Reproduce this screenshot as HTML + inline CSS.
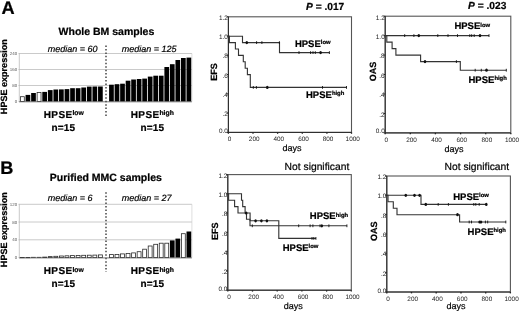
<!DOCTYPE html>
<html><head><meta charset="utf-8"><title>HPSE figure</title>
<style>html,body{margin:0;padding:0;background:#fff;}body{width:520px;height:313px;overflow:hidden;}svg{display:block;filter:blur(0.35px);}text{font-family:'Liberation Sans', Arial, Helvetica, sans-serif;text-rendering:geometricPrecision;}text[font-weight="bold"]{stroke:#000;stroke-width:0.22px;}text.r{stroke:#000;stroke-width:0.2px;}</style>
</head><body>
<svg width="520" height="313" viewBox="0 0 520 313">
<rect width="520" height="313" fill="#fff"/>
<text x="1.5" y="13.9" font-size="18.2" font-weight="bold" fill="#000">A</text>
<text x="0.2" y="174.0" font-size="18.2" font-weight="bold" fill="#000">B</text>
<line x1="19" y1="53.5" x2="191.9" y2="53.5" stroke="#c4c4c4" stroke-width="0.9"/>
<line x1="19" y1="69.5" x2="191.9" y2="69.5" stroke="#c4c4c4" stroke-width="0.9"/>
<line x1="19" y1="85.5" x2="191.9" y2="85.5" stroke="#c4c4c4" stroke-width="0.9"/>
<line x1="191.9" y1="53.5" x2="191.9" y2="101.5" stroke="#c8c8c8" stroke-width="0.6"/>
<line x1="19.3" y1="53.5" x2="19.3" y2="101.5" stroke="#bbb" stroke-width="0.8"/>
<text x="17.2" y="55.1" font-size="4.4" fill="#555" text-anchor="end">240</text>
<line x1="18.3" y1="53.5" x2="19.3" y2="53.5" stroke="#bbb" stroke-width="0.6"/>
<text x="17.2" y="71.1" font-size="4.4" fill="#555" text-anchor="end">160</text>
<line x1="18.3" y1="69.5" x2="19.3" y2="69.5" stroke="#bbb" stroke-width="0.6"/>
<text x="17.2" y="87.1" font-size="4.4" fill="#555" text-anchor="end">80</text>
<line x1="18.3" y1="85.5" x2="19.3" y2="85.5" stroke="#bbb" stroke-width="0.6"/>
<text x="17.2" y="103.1" font-size="4.4" fill="#555" text-anchor="end">0</text>
<line x1="18.3" y1="101.5" x2="19.3" y2="101.5" stroke="#bbb" stroke-width="0.6"/>
<rect x="20.40" y="96.70" width="3.90" height="4.80" fill="#fff" stroke="#2a2a2a" stroke-width="0.8"/>
<rect x="25.57" y="94.90" width="4.70" height="6.60" fill="#000"/>
<rect x="31.15" y="93.00" width="4.70" height="8.50" fill="#000"/>
<rect x="37.12" y="92.50" width="3.90" height="9.00" fill="#fff" stroke="#2a2a2a" stroke-width="0.8"/>
<rect x="42.30" y="91.90" width="4.70" height="9.60" fill="#000"/>
<rect x="47.88" y="90.10" width="4.70" height="11.40" fill="#000"/>
<rect x="53.45" y="89.50" width="4.70" height="12.00" fill="#000"/>
<rect x="59.02" y="89.40" width="4.70" height="12.10" fill="#000"/>
<rect x="64.60" y="89.10" width="4.70" height="12.40" fill="#000"/>
<rect x="70.18" y="88.20" width="4.70" height="13.30" fill="#000"/>
<rect x="75.75" y="88.20" width="4.70" height="13.30" fill="#000"/>
<rect x="81.33" y="87.50" width="4.70" height="14.00" fill="#000"/>
<rect x="86.90" y="86.60" width="4.70" height="14.90" fill="#000"/>
<rect x="92.48" y="86.50" width="4.70" height="15.00" fill="#000"/>
<rect x="98.05" y="86.50" width="4.70" height="15.00" fill="#000"/>
<rect x="109.10" y="84.70" width="4.70" height="16.80" fill="#000"/>
<rect x="114.63" y="84.20" width="4.70" height="17.30" fill="#000"/>
<rect x="120.16" y="83.70" width="4.70" height="17.80" fill="#000"/>
<rect x="125.69" y="80.70" width="4.70" height="20.80" fill="#000"/>
<rect x="131.22" y="79.50" width="4.70" height="22.00" fill="#000"/>
<rect x="136.75" y="79.00" width="4.70" height="22.50" fill="#000"/>
<rect x="142.28" y="78.60" width="4.70" height="22.90" fill="#000"/>
<rect x="147.81" y="76.60" width="4.70" height="24.90" fill="#000"/>
<rect x="153.34" y="75.70" width="4.70" height="25.80" fill="#000"/>
<rect x="158.87" y="75.70" width="4.70" height="25.80" fill="#000"/>
<rect x="164.40" y="67.00" width="4.70" height="34.50" fill="#000"/>
<rect x="169.93" y="64.20" width="4.70" height="37.30" fill="#000"/>
<rect x="175.46" y="60.00" width="4.70" height="41.50" fill="#000"/>
<rect x="180.99" y="58.00" width="4.70" height="43.50" fill="#000"/>
<rect x="186.52" y="57.60" width="4.70" height="43.90" fill="#000"/>
<line x1="19" y1="101.8" x2="191.9" y2="101.8" stroke="#555" stroke-width="0.8"/>
<line x1="106" y1="45.5" x2="106" y2="117.0" stroke="#444" stroke-width="1.5" stroke-dasharray="1.5 1.95"/>
<text x="58.6" y="35.4" font-size="10.5" font-weight="bold" fill="#000">Whole BM samples</text>
<text x="47.8" y="51.5" font-size="9" font-style="italic" fill="#000" class="r">median = 60</text>
<text x="121.8" y="51.5" font-size="9" font-style="italic" fill="#000" class="r">median = 125</text>
<text x="43.8" y="118.2" font-size="10" font-weight="bold" fill="#000" letter-spacing="0.35">HPSE<tspan font-size="6.8" dy="-2.8" letter-spacing="0">low</tspan></text>
<text x="51.5" y="130.6" font-size="10" font-weight="bold" fill="#000" letter-spacing="0.15">n=15</text>
<text x="130.8" y="118.2" font-size="10" font-weight="bold" fill="#000" letter-spacing="0.35">HPSE<tspan font-size="6.8" dy="-2.8" letter-spacing="0">high</tspan></text>
<text x="140.5" y="130.6" font-size="10" font-weight="bold" fill="#000" letter-spacing="0.15">n=15</text>
<text transform="translate(7.2,76.7) rotate(-90)" font-size="9.05" font-weight="bold" fill="#000" text-anchor="middle">HPSE expression</text>
<line x1="19" y1="204.3" x2="191.9" y2="204.3" stroke="#c4c4c4" stroke-width="0.9"/>
<line x1="19" y1="222.0" x2="191.9" y2="222.0" stroke="#c4c4c4" stroke-width="0.9"/>
<line x1="19" y1="239.8" x2="191.9" y2="239.8" stroke="#c4c4c4" stroke-width="0.9"/>
<line x1="191.9" y1="204.3" x2="191.9" y2="257.6" stroke="#c8c8c8" stroke-width="0.6"/>
<line x1="19.3" y1="204.3" x2="19.3" y2="257.6" stroke="#bbb" stroke-width="0.8"/>
<text x="17.2" y="205.9" font-size="4.4" fill="#555" text-anchor="end">120</text>
<line x1="18.3" y1="204.3" x2="19.3" y2="204.3" stroke="#bbb" stroke-width="0.6"/>
<text x="17.2" y="223.6" font-size="4.4" fill="#555" text-anchor="end">80</text>
<line x1="18.3" y1="222.0" x2="19.3" y2="222.0" stroke="#bbb" stroke-width="0.6"/>
<text x="17.2" y="241.4" font-size="4.4" fill="#555" text-anchor="end">40</text>
<line x1="18.3" y1="239.8" x2="19.3" y2="239.8" stroke="#bbb" stroke-width="0.6"/>
<text x="17.2" y="259.2" font-size="4.4" fill="#555" text-anchor="end">0</text>
<line x1="18.3" y1="257.6" x2="19.3" y2="257.6" stroke="#bbb" stroke-width="0.6"/>
<rect x="20.40" y="257.40" width="3.90" height="0.30" fill="#fff" stroke="#2a2a2a" stroke-width="0.8"/>
<rect x="25.97" y="257.40" width="3.90" height="0.30" fill="#fff" stroke="#2a2a2a" stroke-width="0.8"/>
<rect x="31.55" y="257.30" width="3.90" height="0.30" fill="#fff" stroke="#2a2a2a" stroke-width="0.8"/>
<rect x="37.12" y="257.30" width="3.90" height="0.30" fill="#fff" stroke="#2a2a2a" stroke-width="0.8"/>
<rect x="42.70" y="257.10" width="3.90" height="0.50" fill="#fff" stroke="#2a2a2a" stroke-width="0.8"/>
<rect x="48.27" y="256.60" width="3.90" height="1.00" fill="#fff" stroke="#2a2a2a" stroke-width="0.8"/>
<rect x="53.85" y="256.30" width="3.90" height="1.30" fill="#fff" stroke="#2a2a2a" stroke-width="0.8"/>
<rect x="59.42" y="256.00" width="3.90" height="1.60" fill="#fff" stroke="#2a2a2a" stroke-width="0.8"/>
<rect x="65.00" y="255.80" width="3.90" height="1.80" fill="#fff" stroke="#2a2a2a" stroke-width="0.8"/>
<rect x="70.58" y="255.60" width="3.90" height="2.00" fill="#fff" stroke="#2a2a2a" stroke-width="0.8"/>
<rect x="76.15" y="255.40" width="3.90" height="2.20" fill="#fff" stroke="#2a2a2a" stroke-width="0.8"/>
<rect x="81.73" y="255.30" width="3.90" height="2.30" fill="#fff" stroke="#2a2a2a" stroke-width="0.8"/>
<rect x="87.30" y="255.20" width="3.90" height="2.40" fill="#fff" stroke="#2a2a2a" stroke-width="0.8"/>
<rect x="92.88" y="255.10" width="3.90" height="2.50" fill="#fff" stroke="#2a2a2a" stroke-width="0.8"/>
<rect x="98.45" y="254.90" width="3.90" height="2.70" fill="#fff" stroke="#2a2a2a" stroke-width="0.8"/>
<rect x="109.50" y="254.60" width="3.90" height="3.00" fill="#fff" stroke="#2a2a2a" stroke-width="0.8"/>
<rect x="115.03" y="254.40" width="3.90" height="3.20" fill="#fff" stroke="#2a2a2a" stroke-width="0.8"/>
<rect x="120.56" y="253.90" width="3.90" height="3.70" fill="#fff" stroke="#2a2a2a" stroke-width="0.8"/>
<rect x="126.09" y="253.40" width="3.90" height="4.20" fill="#fff" stroke="#2a2a2a" stroke-width="0.8"/>
<rect x="131.62" y="252.90" width="3.90" height="4.70" fill="#fff" stroke="#2a2a2a" stroke-width="0.8"/>
<rect x="137.15" y="251.70" width="3.90" height="5.90" fill="#fff" stroke="#2a2a2a" stroke-width="0.8"/>
<rect x="142.68" y="249.20" width="3.90" height="8.40" fill="#fff" stroke="#2a2a2a" stroke-width="0.8"/>
<rect x="148.21" y="246.00" width="3.90" height="11.60" fill="#fff" stroke="#2a2a2a" stroke-width="0.8"/>
<rect x="153.74" y="244.30" width="3.90" height="13.30" fill="#fff" stroke="#2a2a2a" stroke-width="0.8"/>
<rect x="159.27" y="243.20" width="3.90" height="14.40" fill="#fff" stroke="#2a2a2a" stroke-width="0.8"/>
<rect x="164.80" y="243.20" width="3.90" height="14.40" fill="#fff" stroke="#2a2a2a" stroke-width="0.8"/>
<rect x="169.93" y="240.40" width="4.70" height="17.20" fill="#000"/>
<rect x="175.46" y="238.60" width="4.70" height="19.00" fill="#000"/>
<rect x="181.39" y="233.70" width="3.90" height="23.90" fill="#fff" stroke="#2a2a2a" stroke-width="0.8"/>
<rect x="186.52" y="231.50" width="4.70" height="26.10" fill="#000"/>
<line x1="19" y1="257.9" x2="191.9" y2="257.9" stroke="#555" stroke-width="0.8"/>
<line x1="106" y1="192.2" x2="106" y2="272.0" stroke="#444" stroke-width="1.5" stroke-dasharray="1.5 1.95"/>
<text x="49.8" y="181.2" font-size="10.5" font-weight="bold" fill="#000">Purified MMC samples</text>
<text x="47.8" y="200.8" font-size="9" font-style="italic" fill="#000" class="r">median = 6</text>
<text x="121.8" y="200.8" font-size="9" font-style="italic" fill="#000" class="r">median = 27</text>
<text x="43.8" y="274.4" font-size="10" font-weight="bold" fill="#000" letter-spacing="0.35">HPSE<tspan font-size="6.8" dy="-2.8" letter-spacing="0">low</tspan></text>
<text x="51.5" y="286.9" font-size="10" font-weight="bold" fill="#000" letter-spacing="0.15">n=15</text>
<text x="130.8" y="274.4" font-size="10" font-weight="bold" fill="#000" letter-spacing="0.35">HPSE<tspan font-size="6.8" dy="-2.8" letter-spacing="0">high</tspan></text>
<text x="140.5" y="286.9" font-size="10" font-weight="bold" fill="#000" letter-spacing="0.15">n=15</text>
<text transform="translate(7.2,229.7) rotate(-90)" font-size="9.05" font-weight="bold" fill="#000" text-anchor="middle">HPSE expression</text>
<rect x="228.4" y="16.8" width="123.1" height="115.6" fill="none" stroke="#555" stroke-width="1.1"/>
<line x1="228.4" y1="16.8" x2="228.4" y2="132.4" stroke="#2a2a2a" stroke-width="1.0"/>
<line x1="228.4" y1="132.4" x2="351.5" y2="132.4" stroke="#2a2a2a" stroke-width="1.0"/>
<line x1="226.9" y1="132.4" x2="228.4" y2="132.4" stroke="#222" stroke-width="1"/>
<text x="227.9" y="132.9" font-size="6.4" fill="#222" text-anchor="end">0.0</text>
<line x1="226.9" y1="113.1" x2="228.4" y2="113.1" stroke="#222" stroke-width="1"/>
<text x="227.9" y="116.2" font-size="6.4" fill="#222" text-anchor="end">.2</text>
<line x1="226.9" y1="93.9" x2="228.4" y2="93.9" stroke="#222" stroke-width="1"/>
<text x="227.9" y="97.0" font-size="6.4" fill="#222" text-anchor="end">.4</text>
<line x1="226.9" y1="74.6" x2="228.4" y2="74.6" stroke="#222" stroke-width="1"/>
<text x="227.9" y="77.7" font-size="6.4" fill="#222" text-anchor="end">.6</text>
<line x1="226.9" y1="55.3" x2="228.4" y2="55.3" stroke="#222" stroke-width="1"/>
<text x="227.9" y="58.4" font-size="6.4" fill="#222" text-anchor="end">.8</text>
<line x1="226.9" y1="36.1" x2="228.4" y2="36.1" stroke="#222" stroke-width="1"/>
<text x="227.9" y="39.2" font-size="6.4" fill="#222" text-anchor="end">1.0</text>
<line x1="226.9" y1="16.8" x2="228.4" y2="16.8" stroke="#222" stroke-width="1"/>
<text x="227.9" y="20.2" font-size="6.4" fill="#222" text-anchor="end">1.2</text>
<line x1="228.4" y1="132.4" x2="228.4" y2="133.8" stroke="#222" stroke-width="1.3"/>
<text x="229.6" y="141.0" font-size="6.4" fill="#222" text-anchor="middle">0</text>
<line x1="253.0" y1="132.4" x2="253.0" y2="133.8" stroke="#222" stroke-width="1.3"/>
<text x="254.2" y="141.0" font-size="6.4" fill="#222" text-anchor="middle">200</text>
<line x1="277.6" y1="132.4" x2="277.6" y2="133.8" stroke="#222" stroke-width="1.3"/>
<text x="278.8" y="141.0" font-size="6.4" fill="#222" text-anchor="middle">400</text>
<line x1="302.3" y1="132.4" x2="302.3" y2="133.8" stroke="#222" stroke-width="1.3"/>
<text x="303.5" y="141.0" font-size="6.4" fill="#222" text-anchor="middle">600</text>
<line x1="326.9" y1="132.4" x2="326.9" y2="133.8" stroke="#222" stroke-width="1.3"/>
<text x="328.1" y="141.0" font-size="6.4" fill="#222" text-anchor="middle">800</text>
<line x1="351.5" y1="132.4" x2="351.5" y2="133.8" stroke="#222" stroke-width="1.3"/>
<text x="352.7" y="141.0" font-size="6.4" fill="#222" text-anchor="middle">1000</text>
<text x="282.6" y="150.5" font-size="9" fill="#000" class="r">days</text>
<text transform="translate(217.2,72.0) rotate(-90)" font-size="9" font-weight="bold" fill="#000" text-anchor="middle">EFS</text>
<path d="M228.4,36.2 H242.5 V42.6 H279.5 V52.6 H329.4" fill="none" stroke="#333" stroke-width="1.12"/>
<path d="M228.4,36.2 H229.4 V42.6 H235.4 V49 H238.5 V55.4 H243.3 V61.8 H245.2 V68.2 H247.4 V74.6 H250.3 V87.4 H346.5" fill="none" stroke="#333" stroke-width="1.12"/>
<ellipse cx="246.8" cy="42.6" rx="1.3" ry="1.6" fill="#111"/>
<line x1="256.6" y1="41.2" x2="256.6" y2="44.0" stroke="#111" stroke-width="0.9"/>
<line x1="261.9" y1="41.2" x2="261.9" y2="44.0" stroke="#111" stroke-width="0.9"/>
<line x1="279.4" y1="41.2" x2="279.4" y2="44.0" stroke="#111" stroke-width="0.9"/>
<line x1="299.0" y1="51.2" x2="299.0" y2="54.0" stroke="#111" stroke-width="0.9"/>
<line x1="310.6" y1="51.2" x2="310.6" y2="54.0" stroke="#111" stroke-width="0.9"/>
<line x1="313.0" y1="51.2" x2="313.0" y2="54.0" stroke="#111" stroke-width="0.9"/>
<line x1="315.3" y1="51.2" x2="315.3" y2="54.0" stroke="#111" stroke-width="0.9"/>
<ellipse cx="320.6" cy="52.6" rx="1.3" ry="1.6" fill="#111"/>
<line x1="329.4" y1="51.2" x2="329.4" y2="54.0" stroke="#111" stroke-width="0.9"/>
<line x1="253.3" y1="86.0" x2="253.3" y2="88.8" stroke="#111" stroke-width="0.9"/>
<line x1="256.4" y1="86.0" x2="256.4" y2="88.8" stroke="#111" stroke-width="0.9"/>
<ellipse cx="267.3" cy="87.4" rx="1.3" ry="1.6" fill="#111"/>
<line x1="322.5" y1="86.0" x2="322.5" y2="88.8" stroke="#111" stroke-width="0.9"/>
<line x1="346.5" y1="86.0" x2="346.5" y2="88.8" stroke="#111" stroke-width="0.9"/>
<text x="294.9" y="46.6" font-size="9.5" font-weight="bold" fill="#000">HPSE<tspan font-size="5.9" dy="-2.7">low</tspan></text>
<text x="306" y="97.9" font-size="9.5" font-weight="bold" fill="#000">HPSE<tspan font-size="5.9" dy="-2.7">high</tspan></text>
<text x="306" y="9.8" font-size="10.2" font-weight="bold" fill="#000"><tspan font-style="italic">P</tspan> = .017</text>
<rect x="385.2" y="16.2" width="125.6" height="116.7" fill="none" stroke="#555" stroke-width="1.1"/>
<line x1="385.2" y1="16.2" x2="385.2" y2="132.9" stroke="#2a2a2a" stroke-width="1.0"/>
<line x1="385.2" y1="132.9" x2="510.8" y2="132.9" stroke="#2a2a2a" stroke-width="1.0"/>
<line x1="383.7" y1="132.9" x2="385.2" y2="132.9" stroke="#222" stroke-width="1"/>
<text x="384.7" y="133.4" font-size="6.4" fill="#222" text-anchor="end">0.0</text>
<line x1="383.7" y1="113.5" x2="385.2" y2="113.5" stroke="#222" stroke-width="1"/>
<text x="384.7" y="116.6" font-size="6.4" fill="#222" text-anchor="end">.2</text>
<line x1="383.7" y1="94.0" x2="385.2" y2="94.0" stroke="#222" stroke-width="1"/>
<text x="384.7" y="97.1" font-size="6.4" fill="#222" text-anchor="end">.4</text>
<line x1="383.7" y1="74.5" x2="385.2" y2="74.5" stroke="#222" stroke-width="1"/>
<text x="384.7" y="77.7" font-size="6.4" fill="#222" text-anchor="end">.6</text>
<line x1="383.7" y1="55.1" x2="385.2" y2="55.1" stroke="#222" stroke-width="1"/>
<text x="384.7" y="58.2" font-size="6.4" fill="#222" text-anchor="end">.8</text>
<line x1="383.7" y1="35.7" x2="385.2" y2="35.7" stroke="#222" stroke-width="1"/>
<text x="384.7" y="38.8" font-size="6.4" fill="#222" text-anchor="end">1.0</text>
<line x1="383.7" y1="16.2" x2="385.2" y2="16.2" stroke="#222" stroke-width="1"/>
<text x="384.7" y="19.6" font-size="6.4" fill="#222" text-anchor="end">1.2</text>
<line x1="385.2" y1="132.9" x2="385.2" y2="134.3" stroke="#222" stroke-width="1.3"/>
<text x="386.4" y="141.5" font-size="6.4" fill="#222" text-anchor="middle">0</text>
<line x1="410.3" y1="132.9" x2="410.3" y2="134.3" stroke="#222" stroke-width="1.3"/>
<text x="411.5" y="141.5" font-size="6.4" fill="#222" text-anchor="middle">200</text>
<line x1="435.4" y1="132.9" x2="435.4" y2="134.3" stroke="#222" stroke-width="1.3"/>
<text x="436.6" y="141.5" font-size="6.4" fill="#222" text-anchor="middle">400</text>
<line x1="460.6" y1="132.9" x2="460.6" y2="134.3" stroke="#222" stroke-width="1.3"/>
<text x="461.8" y="141.5" font-size="6.4" fill="#222" text-anchor="middle">600</text>
<line x1="485.7" y1="132.9" x2="485.7" y2="134.3" stroke="#222" stroke-width="1.3"/>
<text x="486.9" y="141.5" font-size="6.4" fill="#222" text-anchor="middle">800</text>
<line x1="510.8" y1="132.9" x2="510.8" y2="134.3" stroke="#222" stroke-width="1.3"/>
<text x="512.0" y="141.5" font-size="6.4" fill="#222" text-anchor="middle">1000</text>
<text x="444.4" y="151.5" font-size="9" fill="#000" class="r">days</text>
<text transform="translate(376.2,71.6) rotate(-90)" font-size="9" font-weight="bold" fill="#000" text-anchor="middle">OAS</text>
<path d="M385.2,35.6 H489" fill="none" stroke="#333" stroke-width="1.12"/>
<path d="M385.2,35.6 H386.8 V42.1 H392.1 V48.6 H395.9 V55.1 H420.6 V61.6 H460.3 V70.2 H506.3" fill="none" stroke="#333" stroke-width="1.12"/>
<line x1="404.7" y1="34.2" x2="404.7" y2="37.0" stroke="#111" stroke-width="0.9"/>
<line x1="413.9" y1="34.2" x2="413.9" y2="37.0" stroke="#111" stroke-width="0.9"/>
<ellipse cx="418.8" cy="35.6" rx="1.3" ry="1.6" fill="#111"/>
<line x1="437.8" y1="34.2" x2="437.8" y2="37.0" stroke="#111" stroke-width="0.9"/>
<line x1="448.0" y1="34.2" x2="448.0" y2="37.0" stroke="#111" stroke-width="0.9"/>
<line x1="457.5" y1="34.2" x2="457.5" y2="37.0" stroke="#111" stroke-width="0.9"/>
<line x1="469.8" y1="34.2" x2="469.8" y2="37.0" stroke="#111" stroke-width="0.9"/>
<line x1="471.7" y1="34.2" x2="471.7" y2="37.0" stroke="#111" stroke-width="0.9"/>
<line x1="474.2" y1="34.2" x2="474.2" y2="37.0" stroke="#111" stroke-width="0.9"/>
<ellipse cx="480.0" cy="35.6" rx="1.3" ry="1.6" fill="#111"/>
<line x1="489.0" y1="34.2" x2="489.0" y2="37.0" stroke="#111" stroke-width="0.9"/>
<ellipse cx="425.0" cy="61.6" rx="1.3" ry="1.6" fill="#111"/>
<line x1="456.4" y1="60.2" x2="456.4" y2="63.0" stroke="#111" stroke-width="0.9"/>
<line x1="475.2" y1="68.8" x2="475.2" y2="71.6" stroke="#111" stroke-width="0.9"/>
<line x1="481.3" y1="68.8" x2="481.3" y2="71.6" stroke="#111" stroke-width="0.9"/>
<ellipse cx="486.5" cy="70.2" rx="1.3" ry="1.6" fill="#111"/>
<line x1="506.3" y1="68.8" x2="506.3" y2="71.6" stroke="#111" stroke-width="0.9"/>
<text x="454.4" y="29.2" font-size="9.5" font-weight="bold" fill="#000">HPSE<tspan font-size="5.9" dy="-2.7">low</tspan></text>
<text x="468.5" y="82.7" font-size="9.5" font-weight="bold" fill="#000">HPSE<tspan font-size="5.9" dy="-2.7">high</tspan></text>
<text x="468.1" y="9.4" font-size="10.2" font-weight="bold" fill="#000"><tspan font-style="italic">P</tspan> = .023</text>
<rect x="227.8" y="174.6" width="123.5" height="115.6" fill="none" stroke="#555" stroke-width="1.1"/>
<line x1="227.8" y1="174.6" x2="227.8" y2="290.2" stroke="#2a2a2a" stroke-width="1.0"/>
<line x1="227.8" y1="290.2" x2="351.3" y2="290.2" stroke="#2a2a2a" stroke-width="1.0"/>
<line x1="226.3" y1="290.2" x2="227.8" y2="290.2" stroke="#222" stroke-width="1"/>
<text x="227.3" y="290.7" font-size="6.4" fill="#222" text-anchor="end">0.0</text>
<line x1="226.3" y1="270.9" x2="227.8" y2="270.9" stroke="#222" stroke-width="1"/>
<text x="227.3" y="274.0" font-size="6.4" fill="#222" text-anchor="end">.2</text>
<line x1="226.3" y1="251.7" x2="227.8" y2="251.7" stroke="#222" stroke-width="1"/>
<text x="227.3" y="254.8" font-size="6.4" fill="#222" text-anchor="end">.4</text>
<line x1="226.3" y1="232.4" x2="227.8" y2="232.4" stroke="#222" stroke-width="1"/>
<text x="227.3" y="235.5" font-size="6.4" fill="#222" text-anchor="end">.6</text>
<line x1="226.3" y1="213.1" x2="227.8" y2="213.1" stroke="#222" stroke-width="1"/>
<text x="227.3" y="216.2" font-size="6.4" fill="#222" text-anchor="end">.8</text>
<line x1="226.3" y1="193.9" x2="227.8" y2="193.9" stroke="#222" stroke-width="1"/>
<text x="227.3" y="197.0" font-size="6.4" fill="#222" text-anchor="end">1.0</text>
<line x1="226.3" y1="174.6" x2="227.8" y2="174.6" stroke="#222" stroke-width="1"/>
<text x="227.3" y="178.0" font-size="6.4" fill="#222" text-anchor="end">1.2</text>
<line x1="227.8" y1="290.2" x2="227.8" y2="291.6" stroke="#222" stroke-width="1.3"/>
<text x="229.0" y="298.8" font-size="6.4" fill="#222" text-anchor="middle">0</text>
<line x1="252.5" y1="290.2" x2="252.5" y2="291.6" stroke="#222" stroke-width="1.3"/>
<text x="253.7" y="298.8" font-size="6.4" fill="#222" text-anchor="middle">200</text>
<line x1="277.2" y1="290.2" x2="277.2" y2="291.6" stroke="#222" stroke-width="1.3"/>
<text x="278.4" y="298.8" font-size="6.4" fill="#222" text-anchor="middle">400</text>
<line x1="301.9" y1="290.2" x2="301.9" y2="291.6" stroke="#222" stroke-width="1.3"/>
<text x="303.1" y="298.8" font-size="6.4" fill="#222" text-anchor="middle">600</text>
<line x1="326.6" y1="290.2" x2="326.6" y2="291.6" stroke="#222" stroke-width="1.3"/>
<text x="327.8" y="298.8" font-size="6.4" fill="#222" text-anchor="middle">800</text>
<line x1="351.3" y1="290.2" x2="351.3" y2="291.6" stroke="#222" stroke-width="1.3"/>
<text x="352.5" y="298.8" font-size="6.4" fill="#222" text-anchor="middle">1000</text>
<text x="283.8" y="309.4" font-size="9" fill="#000" class="r">days</text>
<text transform="translate(218.0,231.2) rotate(-90)" font-size="9" font-weight="bold" fill="#000" text-anchor="middle">EFS</text>
<path d="M227.8,193.8 H241.5 V200.2 H242.7 V206.6 H245.1 V213 H250.1 V220.8 H278.8 V238.4 H316" fill="none" stroke="#333" stroke-width="1.12"/>
<path d="M227.8,193.8 H228.6 V200.2 H234.6 V206.6 H238 V213 H246.5 V219.3 H250 V225.8 H346.9" fill="none" stroke="#333" stroke-width="1.12"/>
<ellipse cx="246.2" cy="213.0" rx="1.3" ry="1.6" fill="#111"/>
<ellipse cx="255.6" cy="220.8" rx="1.3" ry="1.6" fill="#111"/>
<ellipse cx="261.4" cy="220.8" rx="1.3" ry="1.6" fill="#111"/>
<ellipse cx="266.9" cy="220.8" rx="1.3" ry="1.6" fill="#111"/>
<line x1="312.0" y1="237.0" x2="312.0" y2="239.8" stroke="#111" stroke-width="0.9"/>
<line x1="313.8" y1="237.0" x2="313.8" y2="239.8" stroke="#111" stroke-width="0.9"/>
<line x1="315.9" y1="237.0" x2="315.9" y2="239.8" stroke="#111" stroke-width="0.9"/>
<line x1="252.3" y1="224.4" x2="252.3" y2="227.2" stroke="#111" stroke-width="0.9"/>
<line x1="298.7" y1="224.4" x2="298.7" y2="227.2" stroke="#111" stroke-width="0.9"/>
<line x1="310.1" y1="224.4" x2="310.1" y2="227.2" stroke="#111" stroke-width="0.9"/>
<line x1="312.9" y1="224.4" x2="312.9" y2="227.2" stroke="#111" stroke-width="0.9"/>
<line x1="320.0" y1="224.4" x2="320.0" y2="227.2" stroke="#111" stroke-width="0.9"/>
<ellipse cx="321.8" cy="225.8" rx="1.3" ry="1.6" fill="#111"/>
<line x1="328.9" y1="224.4" x2="328.9" y2="227.2" stroke="#111" stroke-width="0.9"/>
<line x1="346.9" y1="224.4" x2="346.9" y2="227.2" stroke="#111" stroke-width="0.9"/>
<text x="309.8" y="219.2" font-size="9.5" font-weight="bold" fill="#000">HPSE<tspan font-size="5.9" dy="-2.7">high</tspan></text>
<text x="282.7" y="250.5" font-size="9.5" font-weight="bold" fill="#000">HPSE<tspan font-size="5.9" dy="-2.7">low</tspan></text>
<text x="284.6" y="169.6" font-size="10.3" fill="#000" class="r">Not significant</text>
<rect x="386.8" y="176.0" width="123.6" height="116.0" fill="none" stroke="#555" stroke-width="1.1"/>
<line x1="386.8" y1="176.0" x2="386.8" y2="292.0" stroke="#2a2a2a" stroke-width="1.0"/>
<line x1="386.8" y1="292.0" x2="510.4" y2="292.0" stroke="#2a2a2a" stroke-width="1.0"/>
<line x1="385.3" y1="292.0" x2="386.8" y2="292.0" stroke="#222" stroke-width="1"/>
<text x="386.3" y="292.5" font-size="6.4" fill="#222" text-anchor="end">0.0</text>
<line x1="385.3" y1="272.7" x2="386.8" y2="272.7" stroke="#222" stroke-width="1"/>
<text x="386.3" y="275.8" font-size="6.4" fill="#222" text-anchor="end">.2</text>
<line x1="385.3" y1="253.3" x2="386.8" y2="253.3" stroke="#222" stroke-width="1"/>
<text x="386.3" y="256.4" font-size="6.4" fill="#222" text-anchor="end">.4</text>
<line x1="385.3" y1="234.0" x2="386.8" y2="234.0" stroke="#222" stroke-width="1"/>
<text x="386.3" y="237.1" font-size="6.4" fill="#222" text-anchor="end">.6</text>
<line x1="385.3" y1="214.7" x2="386.8" y2="214.7" stroke="#222" stroke-width="1"/>
<text x="386.3" y="217.8" font-size="6.4" fill="#222" text-anchor="end">.8</text>
<line x1="385.3" y1="195.3" x2="386.8" y2="195.3" stroke="#222" stroke-width="1"/>
<text x="386.3" y="198.4" font-size="6.4" fill="#222" text-anchor="end">1.0</text>
<line x1="385.3" y1="176.0" x2="386.8" y2="176.0" stroke="#222" stroke-width="1"/>
<text x="386.3" y="179.4" font-size="6.4" fill="#222" text-anchor="end">1.2</text>
<line x1="386.8" y1="292.0" x2="386.8" y2="293.4" stroke="#222" stroke-width="1.3"/>
<text x="388.0" y="300.6" font-size="6.4" fill="#222" text-anchor="middle">0</text>
<line x1="411.5" y1="292.0" x2="411.5" y2="293.4" stroke="#222" stroke-width="1.3"/>
<text x="412.7" y="300.6" font-size="6.4" fill="#222" text-anchor="middle">200</text>
<line x1="436.2" y1="292.0" x2="436.2" y2="293.4" stroke="#222" stroke-width="1.3"/>
<text x="437.4" y="300.6" font-size="6.4" fill="#222" text-anchor="middle">400</text>
<line x1="461.0" y1="292.0" x2="461.0" y2="293.4" stroke="#222" stroke-width="1.3"/>
<text x="462.2" y="300.6" font-size="6.4" fill="#222" text-anchor="middle">600</text>
<line x1="485.7" y1="292.0" x2="485.7" y2="293.4" stroke="#222" stroke-width="1.3"/>
<text x="486.9" y="300.6" font-size="6.4" fill="#222" text-anchor="middle">800</text>
<line x1="510.4" y1="292.0" x2="510.4" y2="293.4" stroke="#222" stroke-width="1.3"/>
<text x="511.6" y="300.6" font-size="6.4" fill="#222" text-anchor="middle">1000</text>
<text x="446.4" y="309.4" font-size="9" fill="#000" class="r">days</text>
<text transform="translate(376.7,231.3) rotate(-90)" font-size="9" font-weight="bold" fill="#000" text-anchor="middle">OAS</text>
<path d="M386.8,195.3 H421 V204.4 H486.3" fill="none" stroke="#333" stroke-width="1.12"/>
<path d="M386.8,195.3 H388 V201.8 H393.3 V208.2 H397 V214.7 H459.6 V222 H505.8" fill="none" stroke="#333" stroke-width="1.12"/>
<ellipse cx="405.8" cy="195.3" rx="1.3" ry="1.6" fill="#111"/>
<ellipse cx="414.5" cy="195.3" rx="1.3" ry="1.6" fill="#111"/>
<ellipse cx="419.6" cy="195.3" rx="1.3" ry="1.6" fill="#111"/>
<ellipse cx="425.8" cy="204.4" rx="1.3" ry="1.6" fill="#111"/>
<line x1="438.2" y1="203.0" x2="438.2" y2="205.8" stroke="#111" stroke-width="0.9"/>
<line x1="448.4" y1="203.0" x2="448.4" y2="205.8" stroke="#111" stroke-width="0.9"/>
<line x1="473.8" y1="203.0" x2="473.8" y2="205.8" stroke="#111" stroke-width="0.9"/>
<line x1="475.8" y1="203.0" x2="475.8" y2="205.8" stroke="#111" stroke-width="0.9"/>
<line x1="479.2" y1="203.0" x2="479.2" y2="205.8" stroke="#111" stroke-width="0.9"/>
<ellipse cx="486.3" cy="204.4" rx="1.3" ry="1.6" fill="#111"/>
<ellipse cx="457.5" cy="214.7" rx="1.3" ry="1.6" fill="#111"/>
<line x1="469.2" y1="220.6" x2="469.2" y2="223.4" stroke="#111" stroke-width="0.9"/>
<line x1="471.5" y1="220.6" x2="471.5" y2="223.4" stroke="#111" stroke-width="0.9"/>
<ellipse cx="479.6" cy="222.0" rx="1.3" ry="1.6" fill="#111"/>
<ellipse cx="481.0" cy="222.0" rx="1.3" ry="1.6" fill="#111"/>
<line x1="485.4" y1="220.6" x2="485.4" y2="223.4" stroke="#111" stroke-width="0.9"/>
<line x1="487.7" y1="220.6" x2="487.7" y2="223.4" stroke="#111" stroke-width="0.9"/>
<line x1="505.8" y1="220.6" x2="505.8" y2="223.4" stroke="#111" stroke-width="0.9"/>
<text x="453.2" y="199.8" font-size="9.5" font-weight="bold" fill="#000">HPSE<tspan font-size="5.9" dy="-2.7">low</tspan></text>
<text x="467.6" y="235.1" font-size="9.5" font-weight="bold" fill="#000">HPSE<tspan font-size="5.9" dy="-2.7">high</tspan></text>
<text x="444.5" y="169.7" font-size="10.3" fill="#000" class="r">Not significant</text>
</svg>
</body></html>
